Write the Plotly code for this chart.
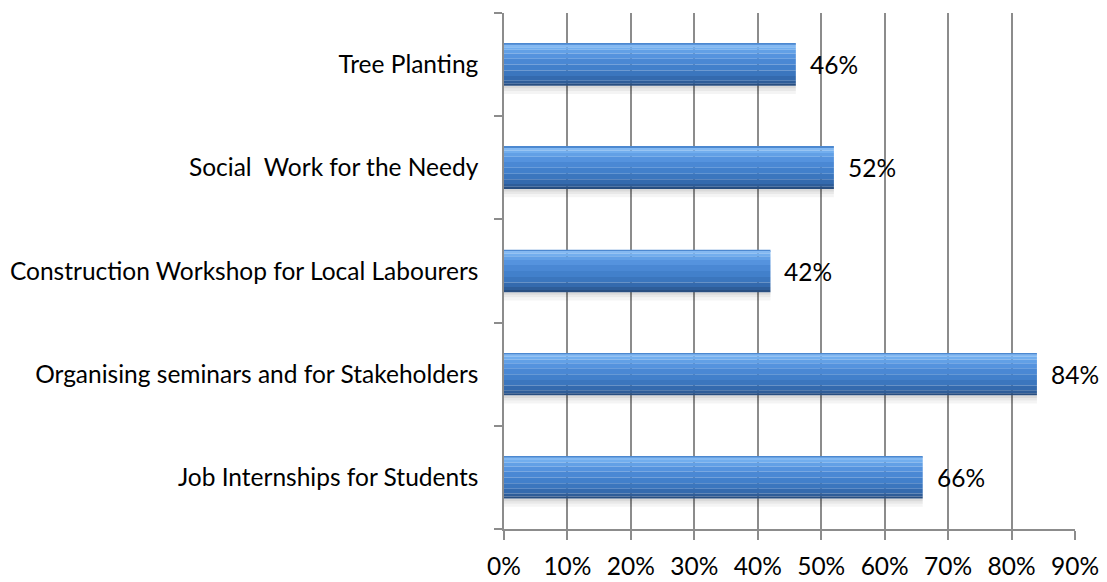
import plotly.graph_objects as go

# Programmes and the share of respondents supporting each one
categories = [
    "Job Internships for Students",
    "Organising seminars and for Stakeholders",
    "Construction Workshop for Local Labourers",
    "Social\u00a0 Work for the Needy",
    "Tree Planting",
]
shares = [0.66, 0.84, 0.42, 0.52, 0.46]

FONT = "Lato"
FS = 24.5
GRID = "#8c8c8c"
BAR_W = 0.41  # bar thickness in category units

# Vertical shading of a bar, top to bottom: (start, end, colour) as fractions of thickness
bands = [
    (0.00, 0.03, "#4c88d0"),
    (0.03, 0.09, "#84b9f2"),
    (0.09, 0.15, "#72aeee"),
    (0.15, 0.24, "#62a0e6"),
    (0.24, 0.36, "#5593de"),
    (0.36, 0.50, "#4a88d4"),
    (0.50, 0.64, "#4280cb"),
    (0.64, 0.77, "#3b76be"),
    (0.77, 0.88, "#346aae"),
    (0.88, 0.95, "#2e5d99"),
    (0.95, 1.00, "#284e80"),
]
# Soft shadow beneath each bar: (start, end, colour) relative to the bar's bottom edge
shadow = [
    (0.00, 0.025, "rgba(0,0,0,0.15)"),
    (0.025, 0.05, "rgba(0,0,0,0.09)"),
    (0.05, 0.08, "rgba(0,0,0,0.045)"),
]

fig = go.Figure()
half = BAR_W / 2

for s, e, col in shadow:
    fig.add_trace(go.Bar(
        y=categories, x=shares, orientation="h", base=0,
        offset=-half - e, width=e - s,
        marker=dict(color=col, line=dict(width=0)),
        hoverinfo="skip", showlegend=False,
    ))

for s, e, col in bands:
    fig.add_trace(go.Bar(
        y=categories, x=shares, orientation="h", base=0,
        offset=half - e * BAR_W, width=(e - s) * BAR_W,
        marker=dict(color=col, line=dict(width=0)),
        hoverinfo="skip", showlegend=False,
    ))

# Value labels just past the end of each bar
for cat, v in zip(categories, shares):
    fig.add_annotation(
        x=v, y=cat, xref="x", yref="y", text=f"{v:.0%}",
        showarrow=False, xanchor="left", xshift=12,
        font=dict(family=FONT, size=FS, color="#000000"),
    )

fig.update_layout(
    width=1107, height=582,
    margin=dict(l=504, r=32, t=13, b=53),
    paper_bgcolor="white", plot_bgcolor="white",
    barmode="overlay",
    font=dict(family=FONT, size=FS, color="#000000"),
)
fig.update_xaxes(
    range=[0, 0.9], dtick=0.1, tick0=0, tickformat=".0%",
    showgrid=True, gridcolor=GRID, gridwidth=1.5,
    showline=True, linecolor=GRID, linewidth=1.5,
    ticks="outside", ticklen=9, tickcolor=GRID, tickwidth=1.5,
    zeroline=False, ticklabelstandoff=6, automargin=False,
)
fig.update_yaxes(
    categoryorder="array", categoryarray=categories,
    showgrid=False, showline=True, linecolor=GRID, linewidth=1.5,
    ticks="outside", ticklen=8, tickcolor=GRID, tickwidth=1.5,
    tickson="boundaries", ticklabelstandoff=19, automargin=False,
)

fig.write_html("out.html")
